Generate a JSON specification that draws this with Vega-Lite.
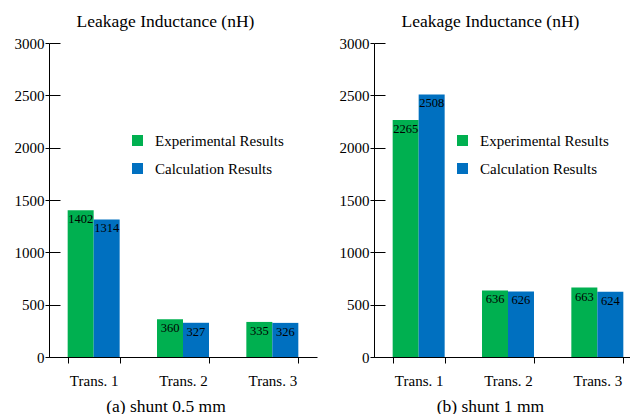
{
  "$schema": "https://vega.github.io/schema/vega-lite/v6.json",
  "background": "white",
  "padding": {"left": 14, "top": 12, "right": 0, "bottom": 0},
  "spacing": 22,
  "config": {
    "view": {"stroke": null},
    "font": "Liberation Serif",
    "axis": {"labelFont": "Liberation Serif", "titleFont": "Liberation Serif", "labelColor": "black", "titleColor": "black", "domainColor": "black", "tickColor": "black", "titleFontWeight": "normal", "labelFontSize": 15},
    "legend": {"labelFont": "Liberation Serif", "labelFontSize": 15, "labelColor": "black"},
    "title": {"font": "Liberation Serif", "fontSize": 17.5, "fontWeight": "normal", "color": "black", "frame": "bounds", "anchor": "middle", "baseline": "alphabetic", "offset": 6}
  },
  "data": {"values": [
    {"panel": "a", "trans": "Trans. 1", "series": "Experimental Results", "value": 1402},
    {"panel": "a", "trans": "Trans. 1", "series": "Calculation Results", "value": 1314},
    {"panel": "a", "trans": "Trans. 2", "series": "Experimental Results", "value": 360},
    {"panel": "a", "trans": "Trans. 2", "series": "Calculation Results", "value": 327},
    {"panel": "a", "trans": "Trans. 3", "series": "Experimental Results", "value": 335},
    {"panel": "a", "trans": "Trans. 3", "series": "Calculation Results", "value": 326},
    {"panel": "b", "trans": "Trans. 1", "series": "Experimental Results", "value": 2265},
    {"panel": "b", "trans": "Trans. 1", "series": "Calculation Results", "value": 2508},
    {"panel": "b", "trans": "Trans. 2", "series": "Experimental Results", "value": 636},
    {"panel": "b", "trans": "Trans. 2", "series": "Calculation Results", "value": 626},
    {"panel": "b", "trans": "Trans. 3", "series": "Experimental Results", "value": 663},
    {"panel": "b", "trans": "Trans. 3", "series": "Calculation Results", "value": 624}
  ]},
  "resolve": {"legend": {"color": "independent"}},
  "hconcat": [
    {
      "width": 268, "height": 314,
      "title": "Leakage Inductance (nH)",
      "transform": [{"filter": "datum.panel == 'a'"}],
      "encoding": {
        "x": {"field": "trans", "type": "nominal", "scale": {"paddingInner": 0.418, "paddingOuter": 0.209},
          "axis": {"labelAngle": 0, "tickBand": "extent", "tickSize": 6, "labelPadding": 10, "title": "(a) shunt 0.5 mm", "titleFontSize": 17.5, "titlePadding": 9, "titleX": 116.5}},
        "xOffset": {"field": "series", "type": "nominal", "sort": ["Experimental Results", "Calculation Results"], "scale": {"paddingInner": 0, "paddingOuter": 0}},
        "y": {"field": "value", "type": "quantitative", "scale": {"domain": [0, 3000], "nice": false},
          "axis": {"values": [0, 500, 1000, 1500, 2000, 2500, 3000], "format": "d", "title": null, "tickSize": 4, "labelPadding": 1, "grid": true, "gridColor": "black", "gridOpacity": 1, "gridDash": [11, 2000]}}
      },
      "layer": [
        {"mark": {"type": "bar"},
         "encoding": {"color": {"field": "series", "type": "nominal", "scale": {"domain": ["Experimental Results", "Calculation Results"], "range": ["#00B050", "#0070C0"]},
           "legend": {"title": null, "orient": "none", "legendX": 81, "legendY": 90, "symbolType": "square", "symbolSize": 121, "symbolStrokeWidth": 0, "labelOffset": 10, "rowPadding": 12, "padding": 0}}}},
        {"mark": {"type": "text", "baseline": "top", "dy": 3, "fontSize": 12.5, "color": "black", "font": "Liberation Serif"},
         "encoding": {"text": {"field": "value", "type": "quantitative"}}}
      ]
    },
    {
      "width": 268, "height": 314,
      "title": "Leakage Inductance (nH)",
      "transform": [{"filter": "datum.panel == 'b'"}],
      "encoding": {
        "x": {"field": "trans", "type": "nominal", "scale": {"paddingInner": 0.418, "paddingOuter": 0.209},
          "axis": {"labelAngle": 0, "tickBand": "extent", "tickSize": 6, "labelPadding": 10, "title": "(b) shunt 1 mm", "titleFontSize": 17.5, "titlePadding": 9, "titleX": 116}},
        "xOffset": {"field": "series", "type": "nominal", "sort": ["Experimental Results", "Calculation Results"], "scale": {"paddingInner": 0, "paddingOuter": 0}},
        "y": {"field": "value", "type": "quantitative", "scale": {"domain": [0, 3000], "nice": false},
          "axis": {"values": [0, 500, 1000, 1500, 2000, 2500, 3000], "format": "d", "title": null, "tickSize": 4, "labelPadding": 1, "grid": true, "gridColor": "black", "gridOpacity": 1, "gridDash": [11, 2000]}}
      },
      "layer": [
        {"mark": {"type": "bar"},
         "encoding": {"color": {"field": "series", "type": "nominal", "scale": {"domain": ["Experimental Results", "Calculation Results"], "range": ["#00B050", "#0070C0"]},
           "legend": {"title": null, "orient": "none", "legendX": 81, "legendY": 90, "symbolType": "square", "symbolSize": 121, "symbolStrokeWidth": 0, "labelOffset": 10, "rowPadding": 12, "padding": 0}}}},
        {"mark": {"type": "text", "baseline": "top", "dy": 3, "fontSize": 12.5, "color": "black", "font": "Liberation Serif"},
         "encoding": {"text": {"field": "value", "type": "quantitative"}}}
      ]
    }
  ]
}
